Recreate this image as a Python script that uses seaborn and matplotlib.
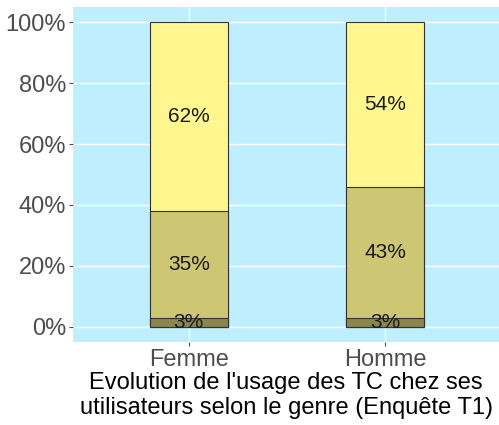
import pandas as pd
import numpy as np
import matplotlib.pyplot as plt
import seaborn as sns

# Data
genres = ["Femme", "Homme"]
part_bas = [3, 3]
part_milieu = [35, 43]
part_haut = [62, 54]
couleurs = ["#8B864E", "#CDC673", "#FFF68F"]

sns.set_style("white")
plt.rcParams['font.family'] = ['Liberation Sans', 'DejaVu Sans']

fig = plt.figure(figsize=(4.99, 4.25), dpi=100)
ax = fig.add_axes([73 / 499, 83 / 425, 426 / 499, 335 / 425])
ax.set_facecolor("#BFEFFF")

# cumulative heights, drawn from tallest to smallest
cum1 = np.array(part_bas)
cum2 = cum1 + np.array(part_milieu)
cum3 = cum2 + np.array(part_haut)

for haut, col in zip([cum3, cum2, cum1], couleurs[::-1]):
    df = pd.DataFrame({"genre": genres, "val": haut / 100})
    sns.barplot(data=df, x="genre", y="val", color=col, saturation=1,
                width=0.4, edgecolor="#333333", linewidth=0.8, ax=ax, zorder=3)

# labels
for i in range(len(genres)):
    segs = [(0, part_bas[i]), (cum1[i], part_milieu[i]), (cum2[i], part_haut[i])]
    for base, h in segs:
        ax.text(i, (base + h / 2) / 100, f"{h}%", ha="center", va="center",
                fontsize=15, color="#1a1a1a", zorder=5)

ax.set_xlim(-0.59, 1.58)
ax.set_ylim(-0.05, 1.05)
ax.set_yticks([0, 0.2, 0.4, 0.6, 0.8, 1.0])
ax.set_yticklabels(["0%", "20%", "40%", "60%", "80%", "100%"])
ax.grid(True, color="white", linewidth=1.0, zorder=0)
ax.set_axisbelow(True)
for s in ax.spines.values():
    s.set_visible(False)
ax.tick_params(axis="both", labelsize=17, labelcolor="#4D4D4D", color="#4D4D4D",
               length=3, width=0.8, left=True, bottom=True, pad=2)
ax.set_ylabel("")
ax.set_xlabel("Evolution de l'usage des TC chez ses\nutilisateurs selon le genre (Enquête T1)",
              fontsize=17, color="black", labelpad=1, linespacing=1.15)

plt.savefig("out.png", dpi=100)
